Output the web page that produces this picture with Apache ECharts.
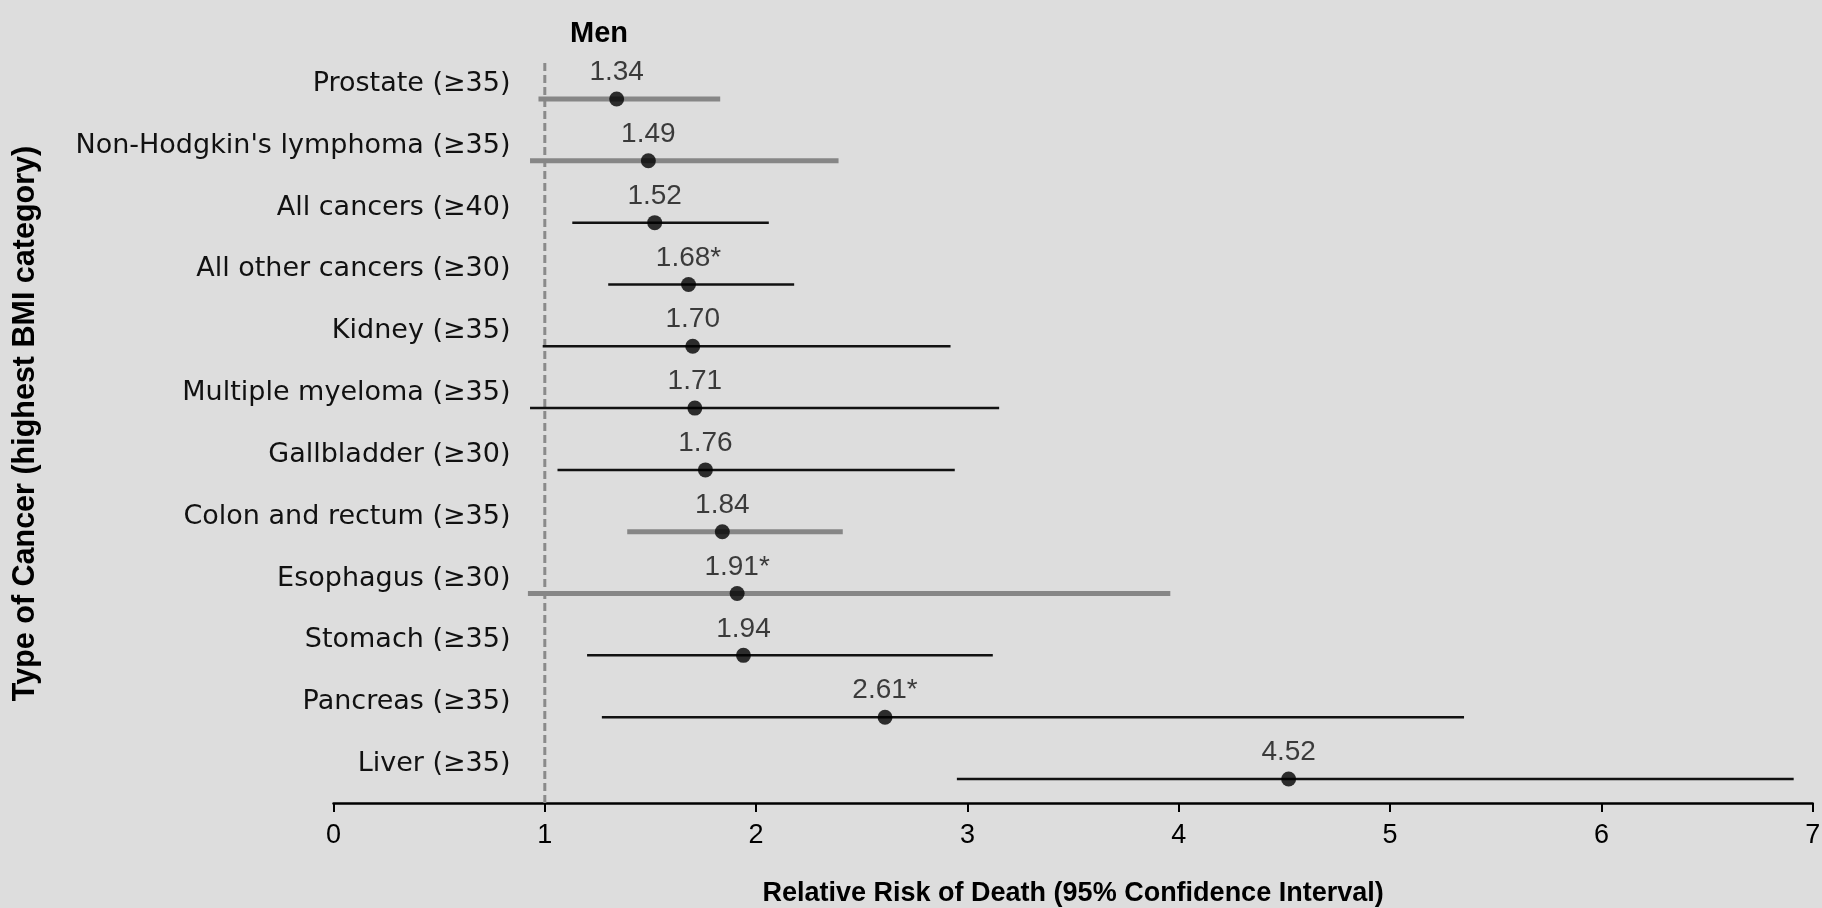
<!DOCTYPE html>
<html>
<head>
<meta charset="utf-8">
<script src="https://cdn.jsdelivr.net/npm/echarts@6/dist/echarts.min.js"></script>
<style>
html,body{margin:0;padding:0;background:#dddddd;}
#chart{width:1822px;height:908px;}
</style>
</head>
<body>
<div id="chart"></div>
<script>
// ---- data ----
const categories = ['Prostate (≥35)', "Non-Hodgkin's lymphoma (≥35)", 'All cancers (≥40)', 'All other cancers (≥30)', 'Kidney (≥35)', 'Multiple myeloma (≥35)', 'Gallbladder (≥30)', 'Colon and rectum (≥35)', 'Esophagus (≥30)', 'Stomach (≥35)', 'Pancreas (≥35)', 'Liver (≥35)'];
const relativeRisk = [1.34, 1.49, 1.52, 1.68, 1.70, 1.71, 1.76, 1.84, 1.91, 1.94, 2.61, 4.52];
const ciLow = [0.97, 0.93, 1.13, 1.30, 0.99, 0.93, 1.06, 1.39, 0.92, 1.20, 1.27, 2.95];
const ciHigh = [1.83, 2.39, 2.06, 2.18, 2.92, 3.15, 2.94, 2.41, 3.96, 3.12, 5.35, 6.91];
const footnoteMarks = ['', '', '', '*', '', '', '', '', '*', '', '*', ''];
const xTicks = [0, 1, 2, 3, 4, 5, 6, 7];
const referenceRisk = 1;
// rows whose CI line is rendered grey in the reference
const greyRows = ['Prostate (≥35)', "Non-Hodgkin's lymphoma (≥35)", 'Colon and rectum (≥35)', 'Esophagus (≥30)'];

const FONT = "'Liberation Sans', Arial, sans-serif";
const WIDE = "'DejaVu Sans', Verdana, sans-serif";
const chart = echarts.init(document.getElementById('chart'));

const ciData = categories.map((c, i) => [ciLow[i], ciHigh[i], i]);
const pointData = categories.map((c, i) => [relativeRisk[i], i]);

const option = {
  backgroundColor: '#dddddd',
  animation: false,
  title: {
    text: 'Men',
    left: 594, top: 14, textAlign: 'center',
    textStyle: {fontFamily: FONT, fontWeight: 'bold', fontSize: 29, color: '#000'}
  },
  grid: [
    {left: 333.5, right: 9.3, top: 99, bottom: 129, containLabel: false, outerBoundsMode: 'none'},
    {left: 333.5, right: 9.3, top: 62, bottom: 105, containLabel: false, outerBoundsMode: 'none'}
  ],
  xAxis: [
    {
      type: 'value', gridIndex: 0,
      min: xTicks[0], max: xTicks[xTicks.length - 1], interval: 1,
      offset: 24,
      axisLine: {show: true, lineStyle: {color: '#000', width: 2.5}},
      axisTick: {show: true, length: 9, lineStyle: {color: '#000', width: 2}},
      splitLine: {show: false},
      axisLabel: {fontFamily: FONT, fontSize: 27, color: '#000', margin: 19, lineHeight: 27},
      name: 'Relative Risk of Death (95% Confidence Interval)',
      nameLocation: 'middle', nameGap: 91,
      nameTextStyle: {fontFamily: FONT, fontWeight: 'bold', fontSize: 27, color: '#000', verticalAlign: 'middle'}
    },
    {
      type: 'value', gridIndex: 1,
      min: xTicks[0], max: xTicks[xTicks.length - 1],
      show: false
    }
  ],
  yAxis: [
    {
      type: 'category', gridIndex: 0, data: categories, inverse: true,
      boundaryGap: false,
      axisLine: {show: false}, axisTick: {show: false}, splitLine: {show: false},
      axisLabel: {
        fontFamily: WIDE, fontSize: 27, color: '#111', margin: -177,
        align: 'right', verticalAlign: 'bottom', lineHeight: 30
      }
    },
    {type: 'value', gridIndex: 1, min: 0, max: 1, show: false}
  ],
  graphic: [
    {
      type: 'text', x: 25.6, y: 423.5, rotation: Math.PI / 2,
      style: {
        text: 'Type of Cancer (highest BMI category)',
        fontFamily: FONT, fontWeight: 'bold', fontSize: 30.5, fill: '#000',
        align: 'center', verticalAlign: 'middle'
      }
    }
  ],
  series: [
    {
      type: 'line', xAxisIndex: 1, yAxisIndex: 1,
      data: [[referenceRisk, 0], [referenceRisk, 1]],
      symbol: 'none', silent: true, z: 1,
      lineStyle: {color: '#8a8a8a', width: 3, type: [8, 4]}
    },
    {
      type: 'custom', xAxisIndex: 0, yAxisIndex: 0, z: 2,
      data: ciData,
      renderItem: function (params, api) {
        const i = api.value(2);
        const p1 = api.coord([api.value(0), i]);
        const p2 = api.coord([api.value(1), i]);
        const grey = greyRows.indexOf(categories[i]) >= 0;
        return {
          type: 'line',
          shape: {x1: p1[0], y1: p1[1], x2: p2[0], y2: p2[1]},
          style: {stroke: grey ? '#868686' : '#111', lineWidth: grey ? 5 : 2.5}
        };
      }
    },
    {
      type: 'scatter', xAxisIndex: 0, yAxisIndex: 0, z: 3,
      data: pointData,
      symbol: 'circle', symbolSize: 15,
      itemStyle: {color: '#000'},
      label: {
        show: true, position: 'top', distance: 5,
        fontFamily: FONT, fontSize: 28, color: '#111', lineHeight: 28,
        formatter: function (p) { return relativeRisk[p.dataIndex].toFixed(2) + footnoteMarks[p.dataIndex]; }
      }
    }
  ]
};
chart.setOption(option);
</script>
</body>
</html>
